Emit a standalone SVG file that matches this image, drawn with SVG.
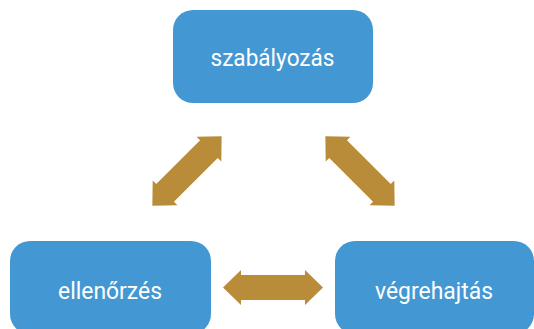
<svg xmlns="http://www.w3.org/2000/svg" width="534" height="329" viewBox="0 0 534 329">
<style>
.box{fill:#4398D3;}
.lbl{font-family:"Roboto","Liberation Sans",sans-serif;font-size:23.5px;fill:#FFFFFF;text-anchor:middle;}
.arr{fill:#B98C39;}
</style>
<rect width="534" height="329" fill="#FFFFFF"/>
<g id="connectors">
<path class="arr" transform="translate(273,287.5)" d="M-50,0 L-32,-17.5 L-32,-12.5 L32,-12.5 L32,-17.5 L50,0 L32,17.5 L32,12.5 L-32,12.5 L-32,17.5 Z"/>
<path class="arr" transform="translate(187,171) rotate(-45)" d="M-49,0 L-31,-17.5 L-31,-12.5 L31,-12.5 L31,-17.5 L49,0 L31,17.5 L31,12.5 L-31,12.5 L-31,17.5 Z"/>
<path class="arr" transform="translate(360,171) rotate(45)" d="M-49,0 L-31,-17.5 L-31,-12.5 L31,-12.5 L31,-17.5 L49,0 L31,17.5 L31,12.5 L-31,12.5 L-31,17.5 Z"/>
</g>
<g id="node-szabalyozas">
<rect class="box" x="173" y="10" width="200" height="93" rx="20"/>
<text class="lbl" x="272.5" y="66" textLength="124" lengthAdjust="spacingAndGlyphs">szabályozás</text>
</g>
<g id="node-ellenorzes">
<rect class="box" x="10" y="241" width="201" height="93" rx="20"/>
<text class="lbl" x="110" y="298.5" textLength="104" lengthAdjust="spacingAndGlyphs">ellenőrzés</text>
</g>
<g id="node-vegrehajtas">
<rect class="box" x="335" y="241" width="199" height="93" rx="20"/>
<text class="lbl" x="434" y="298.5" textLength="118" lengthAdjust="spacingAndGlyphs">végrehajtás</text>
</g>
</svg>
